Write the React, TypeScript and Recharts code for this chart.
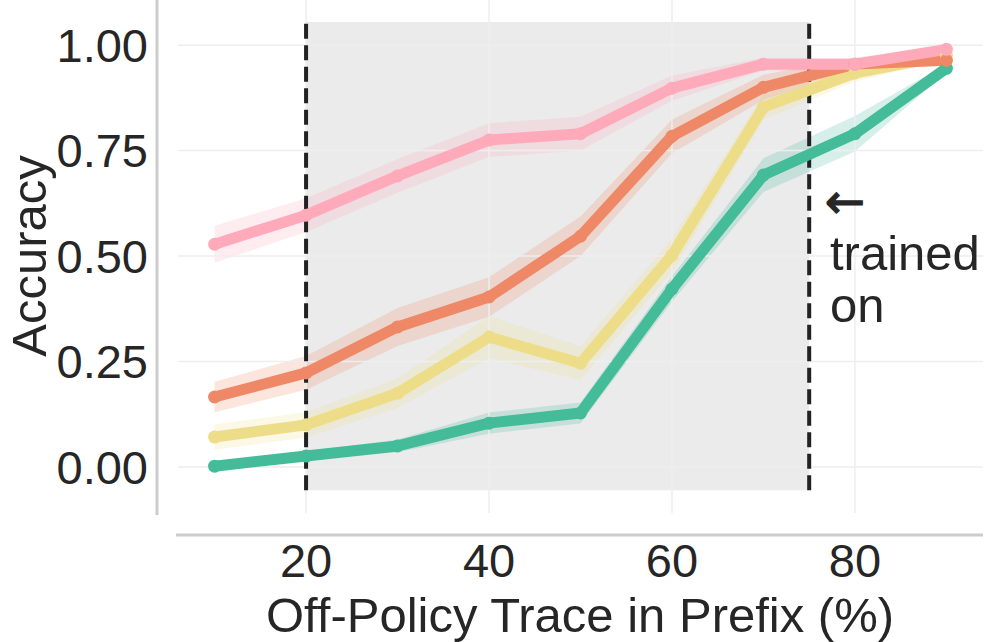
import {
  ComposedChart,
  Line,
  Area,
  XAxis,
  YAxis,
  ReferenceArea,
  ReferenceLine,
} from "recharts";

const prefixPct = [10, 20, 30, 40, 50, 60, 70, 80, 90];

// mean accuracy per series
const pinkMean = [0.528, 0.597, 0.69, 0.775, 0.79, 0.898, 0.955, 0.955, 0.99];
const orangeMean = [0.166, 0.223, 0.332, 0.403, 0.547, 0.784, 0.9, 0.955, 0.964];
const yellowMean = [0.071, 0.1, 0.175, 0.308, 0.246, 0.502, 0.853, 0.934, 0.976];
const greenMean = [0.002, 0.026, 0.05, 0.104, 0.128, 0.422, 0.692, 0.79, 0.945];

// half-width of the shaded band
const pinkErr = [0.044, 0.04, 0.04, 0.04, 0.04, 0.03, 0.015, 0.015, 0.01];
const orangeErr = [0.036, 0.04, 0.045, 0.047, 0.047, 0.04, 0.03, 0.015, 0.01];
const yellowErr = [0.03, 0.03, 0.035, 0.05, 0.04, 0.04, 0.03, 0.02, 0.01];
const greenErr = [0.004, 0.01, 0.015, 0.025, 0.025, 0.03, 0.04, 0.042, 0.01];

const yTicks = [0, 0.25, 0.5, 0.75, 1.0];
const xTicks = [20, 40, 60, 80];
const trainedRange = [20, 75];

const X_DOMAIN = [6, 94];
const Y_DOMAIN = [-0.109, 1.107];

const series = [
  { key: "green", color: "#44BB99", mean: greenMean, err: greenErr },
  { key: "yellow", color: "#EEDD88", mean: yellowMean, err: yellowErr },
  { key: "orange", color: "#EE8866", mean: orangeMean, err: orangeErr },
  { key: "pink", color: "#FFAABB", mean: pinkMean, err: pinkErr },
];

const data = prefixPct.map((x, i) => {
  const row: Record<string, any> = { x };
  series.forEach((s) => {
    row[s.key] = s.mean[i];
    row[s.key + "Band"] = [s.mean[i] - s.err[i], s.mean[i] + s.err[i]];
  });
  return row;
});

const FONT = "'Liberation Sans', Arial, Helvetica, sans-serif";
const TXT = "#262626";
const GRID = "#EEEEEE";

export default function App() {
  return (
    <div
      style={{
        position: "absolute",
        top: 0,
        left: 0,
        width: 996,
        height: 642,
        background: "#fff",
        fontFamily: FONT,
      }}
    >
      <ComposedChart
        width={996}
        height={642}
        data={data}
        margin={{ top: 0, right: 13, left: 0, bottom: 0 }}
      >
        <XAxis
          dataKey="x"
          type="number"
          domain={X_DOMAIN}
          ticks={xTicks}
          allowDataOverflow
          height={129}
          axisLine={false}
          tickLine={false}
          tickSize={0}
          tickMargin={31}
          tick={{ fontSize: 47, fill: TXT, fontFamily: FONT }}
        />
        <YAxis
          type="number"
          domain={Y_DOMAIN}
          ticks={yTicks}
          allowDataOverflow
          width={178}
          axisLine={false}
          tickLine={false}
          tickSize={0}
          tickMargin={30}
          tickFormatter={(v: number) => v.toFixed(2)}
          tick={{ fontSize: 47, fill: TXT, fontFamily: FONT }}
        />
        {/* grid */}
        {yTicks.map((v) => (
          <ReferenceLine key={"gy" + v} y={v} stroke={GRID} strokeWidth={1.5} />
        ))}
        {xTicks.map((v) => (
          <ReferenceLine key={"gx" + v} x={v} stroke={GRID} strokeWidth={1.5} />
        ))}
        <ReferenceArea
          x1={trainedRange[0]}
          x2={trainedRange[1]}
          y1={-0.055}
          y2={1.055}
          fill="#DDDDDD"
          fillOpacity={0.6}
          stroke="none"
        />
        {series.map((s) => (
          <Area
            key={s.key + "Band"}
            dataKey={s.key + "Band"}
            type="linear"
            stroke="none"
            fill={s.color}
            fillOpacity={0.22}
            isAnimationActive={false}
            activeDot={false}
          />
        ))}
        {trainedRange.map((xv) => (
          <ReferenceLine
            key={"v" + xv}
            segment={[
              { x: xv, y: -0.055 },
              { x: xv, y: 1.055 },
            ]}
            stroke="#222222"
            strokeWidth={4}
            strokeDasharray="15 6.5"
          />
        ))}
        {series.map((s) => (
          <Line
            key={s.key}
            dataKey={s.key}
            type="linear"
            stroke={s.color}
            strokeWidth={11}
            strokeLinejoin="round"
            dot={{ r: 6.5, fill: s.color, stroke: "none" }}
            activeDot={false}
            isAnimationActive={false}
          />
        ))}
      </ComposedChart>
      <svg
        width={996}
        height={642}
        style={{ position: "absolute", top: 0, left: 0, pointerEvents: "none" }}
      >
        <line x1={157} y1={0} x2={157} y2={515} stroke="#CCCCCC" strokeWidth={3} />
        <line x1={176} y1={535} x2={983} y2={535} stroke="#CCCCCC" strokeWidth={3} />
        <text
          x={580}
          y={632}
          textAnchor="middle"
          fontSize={49}
          fill={TXT}
          fontFamily={FONT}
        >
          Off-Policy Trace in Prefix (%)
        </text>
        <text
          x={46}
          y={256}
          textAnchor="middle"
          fontSize={49}
          fill={TXT}
          fontFamily={FONT}
          transform="rotate(-90, 46, 256)"
        >
          Accuracy
        </text>
        <g fontSize={49} fill={TXT} fontFamily={FONT}>
          <text
            x={825}
            y={218}
            fontFamily="'DejaVu Sans', sans-serif"
            fontSize={48}
            stroke={TXT}
            strokeWidth={1.2}
          >
            ←
          </text>
          <text x={830} y={270}>trained</text>
          <text x={830} y={322}>on</text>
        </g>
      </svg>
    </div>
  );
}
